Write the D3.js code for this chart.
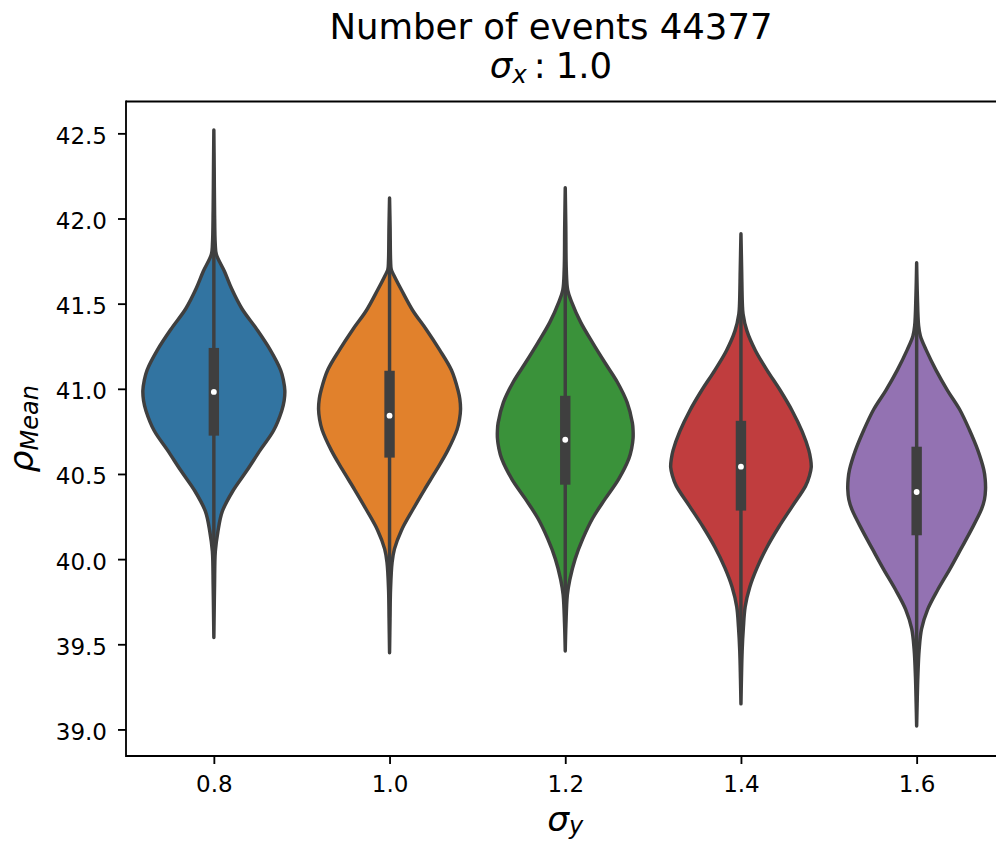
<!DOCTYPE html>
<html>
<head>
<meta charset="utf-8">
<script src="https://cdn.jsdelivr.net/npm/d3@7/dist/d3.min.js"></script>
<style>
  body { margin: 0; background: #fff; }
  svg { display: block; font-family: "DejaVu Sans", sans-serif; }
</style>
</head>
<body>
<svg id="chart" width="996" height="841"></svg>
<script>
// ---- data ----------------------------------------------------------
const categories = ["0.8", "1.0", "1.2", "1.4", "1.6"];
const colors = ["#3274a1", "#e1812c", "#3a923a", "#c03d3e", "#9372b2"];

// quartiles and medians of rho_Mean per sigma_y
const q1      = [40.725, 40.596, 40.437, 40.285, 40.140];
const medians = [40.982, 40.842, 40.701, 40.543, 40.394];
const q3      = [41.240, 41.106, 40.959, 40.812, 40.660];

// kernel density profiles: [rho, relative density]
const kde08 = [[42.52,0],[42.30,0.005],[42.05,0.01],[41.85,0.02],[41.79,0.035],[41.69,0.15],
  [41.59,0.25],[41.47,0.40],[41.35,0.61],[41.23,0.80],[41.11,0.95],[41.05,0.99],[40.99,1.01],
  [40.93,1.0],[40.87,0.965],[40.755,0.85],[40.64,0.66],[40.52,0.47],[40.40,0.27],[40.28,0.12],
  [40.16,0.057],[40.045,0.021],[39.85,0.01],[39.70,0.005],[39.54,0]];
const kde10 = [[42.12,0],[41.95,0.008],[41.75,0.015],[41.70,0.025],[41.66,0.07],[41.58,0.17],
  [41.46,0.33],[41.35,0.52],[41.23,0.71],[41.11,0.88],[40.99,0.975],[40.94,1.0],[40.88,1.01],
  [40.82,0.995],[40.76,0.96],[40.64,0.83],[40.525,0.67],[40.41,0.50],[40.29,0.33],[40.17,0.17],
  [40.06,0.07],[39.98,0.036],[39.82,0.014],[39.65,0.007],[39.45,0]];
const kde12 = [[42.18,0],[41.95,0.008],[41.70,0.015],[41.58,0.035],[41.51,0.09],[41.39,0.22],
  [41.27,0.39],[41.15,0.57],[41.04,0.74],[40.92,0.88],[40.80,0.955],[40.755,0.965],[40.71,0.965],
  [40.65,0.945],[40.59,0.905],[40.47,0.76],[40.355,0.57],[40.24,0.39],[40.12,0.25],[40.00,0.14],
  [39.88,0.065],[39.79,0.03],[39.62,0.01],[39.46,0]];
const kde14 = [[41.91,0],[41.70,0.01],[41.50,0.02],[41.44,0.03],[41.34,0.085],[41.225,0.205],
  [41.11,0.37],[40.99,0.56],[40.87,0.73],[40.75,0.87],[40.64,0.965],[40.59,0.99],[40.54,1.0],
  [40.49,0.975],[40.43,0.92],[40.31,0.73],[40.19,0.54],[40.07,0.37],[39.95,0.23],[39.835,0.125],
  [39.72,0.06],[39.60,0.035],[39.46,0.017],[39.30,0.007],[39.15,0]];
const kde16 = [[41.74,0],[41.55,0.01],[41.37,0.028],[41.31,0.053],[41.23,0.133],[41.11,0.275],
  [40.99,0.44],[40.88,0.61],[40.76,0.75],[40.64,0.87],[40.525,0.955],[40.47,0.975],[40.41,0.98],
  [40.35,0.965],[40.29,0.92],[40.17,0.775],[40.06,0.63],[39.94,0.47],[39.82,0.30],[39.705,0.157],
  [39.59,0.07],[39.47,0.036],[39.31,0.017],[39.15,0.007],[39.02,0]];
const densities = [kde08, kde10, kde12, kde14, kde16];

const yTicks = [39.0, 39.5, 40.0, 40.5, 41.0, 41.5, 42.0, 42.5];
const nEvents = 44377;
const sigmaX = "1.0";

// ---- layout --------------------------------------------------------
const svg = d3.select("#chart");
const W = 996, H = 841;
const plot = { left: 126, right: 1004.5, top: 101.5, bottom: 756 };
const edge = "#3f3f3f";
const lw = 3.45;

const x = d3.scaleLinear().domain([-0.5, categories.length - 0.5]).range([plot.left, plot.right]);
const y = d3.scaleLinear().domain([38.844, 42.687]).range([plot.bottom, plot.top]);
const halfWidth = d3.scaleLinear().domain([0, 1]).range([0, 0.4 * (x(1) - x(0))]);

// ---- violins -------------------------------------------------------
const g = svg.append("g");
densities.forEach((kde, i) => {
  const cx = x(i);
  const area = d3.area()
    .curve(d3.curveCatmullRom)
    .y(d => y(d[0]))
    .x0(d => cx - halfWidth(d[1]))
    .x1(d => cx + halfWidth(d[1]));
  g.append("path")
    .attr("d", area(kde))
    .attr("fill", colors[i])
    .attr("stroke", edge)
    .attr("stroke-width", lw)
    .attr("stroke-linejoin", "round");

  // inner box: whiskers at 1.5 IQR, thick quartile bar, white median dot
  const iqr = q3[i] - q1[i];
  const lo = Math.max(q1[i] - 1.5 * iqr, kde[kde.length - 1][0]);
  const hi = Math.min(q3[i] + 1.5 * iqr, kde[0][0]);
  g.append("line")
    .attr("x1", cx).attr("x2", cx)
    .attr("y1", y(hi)).attr("y2", y(lo))
    .attr("stroke", edge).attr("stroke-width", lw);
  g.append("rect")
    .attr("x", cx - 5.2).attr("width", 10.4)
    .attr("y", y(q3[i])).attr("height", y(q1[i]) - y(q3[i]))
    .attr("fill", edge);
  g.append("circle")
    .attr("cx", cx).attr("cy", y(medians[i])).attr("r", 2.9)
    .attr("fill", "#fff");
});

// ---- axes ----------------------------------------------------------
const yAxis = d3.axisLeft(y).tickValues(yTicks).tickFormat(d3.format(".1f"))
  .tickSize(8).tickPadding(11);
const ya = svg.append("g").attr("transform", `translate(${plot.left},0)`).call(yAxis);
const xAxis = d3.axisBottom(x).tickValues(d3.range(categories.length))
  .tickFormat(i => categories[i]).tickSize(8).tickPadding(12);
const xa = svg.append("g").attr("transform", `translate(0,${plot.bottom})`).call(xAxis);

[ya, xa].forEach(a => {
  a.select(".domain").remove();
  a.selectAll(".tick line").attr("stroke", "#000").attr("stroke-width", 1.84);
  a.selectAll(".tick text").attr("fill", "#000").style("font-size", "23px")
    .style("font-family", "DejaVu Sans");
});
ya.selectAll(".tick text").attr("dy", "0.43em");

// spines
const spines = svg.append("g").attr("stroke", "#000").attr("stroke-width", 1.84).attr("fill", "none");
spines.append("line").attr("x1", plot.left).attr("x2", plot.left).attr("y1", plot.top - 0.9).attr("y2", plot.bottom + 0.9);
spines.append("line").attr("x1", plot.left).attr("x2", W + 10).attr("y1", plot.top).attr("y2", plot.top);
spines.append("line").attr("x1", plot.left).attr("x2", W + 10).attr("y1", plot.bottom).attr("y2", plot.bottom);

// ---- title ---------------------------------------------------------
const titleX = 551;
svg.append("text")
  .attr("x", titleX).attr("y", 39.3)
  .attr("text-anchor", "middle")
  .style("font-size", "35.5px")
  .text(`Number of events ${nEvents}`);

const t2 = svg.append("text")
  .attr("x", titleX).attr("y", 78.3)
  .attr("text-anchor", "middle")
  .style("font-size", "35.5px");
t2.append("tspan").style("font-style", "italic").text("σ");
t2.append("tspan").style("font-style", "italic").style("font-size", "24.5px").attr("dy", 5).text("x");
t2.append("tspan").attr("dy", -5).attr("dx", 7).text(":");
t2.append("tspan").attr("dx", 10).text(sigmaX);

// ---- axis labels ---------------------------------------------------
const xl = svg.append("text")
  .attr("x", (plot.left + plot.right) / 2).attr("y", 831)
  .attr("text-anchor", "middle")
  .style("font-size", "34.5px");
xl.append("tspan").style("font-style", "italic").text("σ");
xl.append("tspan").style("font-style", "italic").style("font-size", "24px").attr("dy", 3).text("y");

const yl = svg.append("text")
  .attr("transform", `translate(33,${(plot.top + plot.bottom) / 2}) rotate(-90)`)
  .attr("text-anchor", "middle")
  .style("font-size", "34.5px");
yl.append("tspan").style("font-style", "italic").text("ρ");
yl.append("tspan").style("font-style", "italic").style("font-size", "24px").attr("dy", 5).text("Mean");
</script>
</body>
</html>
